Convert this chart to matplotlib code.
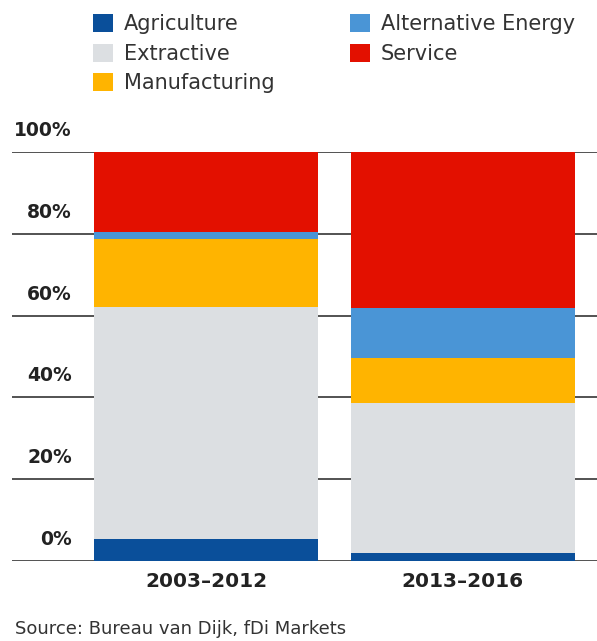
import numpy as np
import matplotlib
matplotlib.use("Agg")
import matplotlib.pyplot as plt
from matplotlib.patches import Patch

plt.rcParams['font.family'] = ['DejaVu Sans']

periods = ['2003–2012', '2013–2016']
sectors = ['Agriculture', 'Extractive', 'Manufacturing', 'Alternative Energy', 'Service']
colors = ['#0a4f9a', '#dcdfe2', '#ffb400', '#4a95d6', '#e31000']

# shares in percent, per period
agriculture = [5.5, 1.9]
extractive = [56.5, 36.7]
manufacturing = [16.7, 11.0]
alt_energy = [1.8, 12.2]
service = [19.5, 38.2]

yticks = [0, 20, 40, 60, 80, 100]
ylabels = ['0%', '20%', '40%', '60%', '80%', '100%']

W, H = 597, 641
fig = plt.figure(figsize=(W / 100, H / 100), dpi=100)
ax = fig.add_axes([12 / W, 1 - 561 / H, (597 - 12) / W, (561 - 152) / H])

x = np.arange(len(periods))
bottom = np.zeros(len(periods))
for vals, col in zip([agriculture, extractive, manufacturing, alt_energy, service], colors):
    ax.bar(x, vals, width=0.873, bottom=bottom, color=col, zorder=2)
    bottom += np.array(vals)

for t in yticks:
    ax.axhline(t, color='#444444', lw=1.3, zorder=1)

ax.set_xlim(-0.756, 1.524)
ax.set_ylim(0, 100)
for s in ax.spines.values():
    s.set_visible(False)
ax.set_yticks([])
ax.set_xticks([])

# y labels sit above each grid line
for t, lab in zip(yticks, ylabels):
    ax.annotate(lab, xy=(0.1026, t), xycoords=('axes fraction', 'data'),
                xytext=(0, 11.5), textcoords='offset points',
                ha='right', va='baseline', fontsize=13.5, fontweight='bold', color='#222222')

for xi, p in zip(x, periods):
    ax.annotate(p, xy=(xi, 0), xycoords='data', xytext=(0, -15), textcoords='offset points',
                ha='center', va='center', fontsize=14.5, fontweight='bold', color='#222222')

handles = [Patch(facecolor=c, edgecolor='none', label=s) for s, c in zip(sectors, colors)]
leg_kw = dict(loc='upper left', frameon=False, fontsize=15, handlelength=0.96, handleheight=0.96,
              handletextpad=0.53, labelspacing=0.45, borderpad=0, borderaxespad=0,
              labelcolor='#333333')
fig.legend(handles=handles[:3], bbox_to_anchor=(93 / W, 1 - 14 / H), **leg_kw)
fig.legend(handles=handles[3:], bbox_to_anchor=(350 / W, 1 - 14 / H), **leg_kw)

fig.text(15 / W, 1 - 629 / H, 'Source: Bureau van Dijk, fDi Markets', ha='left', va='center',
         fontsize=13, color='#333333')

fig.savefig('out.png', dpi=100)
